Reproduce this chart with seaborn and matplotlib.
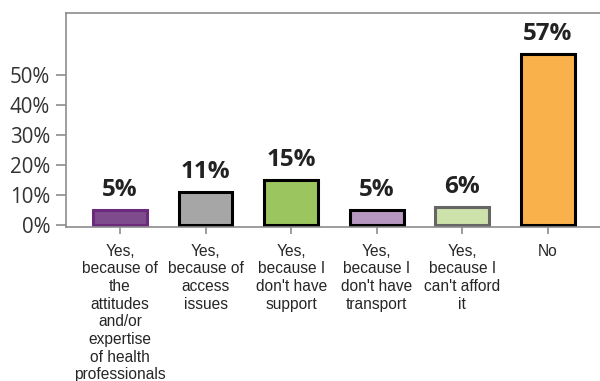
import matplotlib
matplotlib.use("Agg")
import matplotlib.pyplot as plt
import seaborn as sns
import pandas as pd

categories = [
    "Yes,\nbecause of\nthe\nattitudes\nand/or\nexpertise\nof health\nprofessionals",
    "Yes,\nbecause of\naccess\nissues",
    "Yes,\nbecause I\ndon't have\nsupport",
    "Yes,\nbecause I\ndon't have\ntransport",
    "Yes,\nbecause I\ncan't afford\nit",
    "No",
]
values = [5, 11, 15, 5, 6, 57]
labels = ["5%", "11%", "15%", "5%", "6%", "57%"]
fill_colors = ["#7E4B8D", "#A6A6A6", "#9BC55F", "#B597BF", "#CDE1AB", "#F9B24B"]
edge_colors = ["#6B2A7C", "#000000", "#000000", "#000000", "#666666", "#000000"]
yticks = [0, 10, 20, 30, 40, 50]
ytick_labels = ["0%", "10%", "20%", "30%", "40%", "50%"]

sns.set_theme(style="white")
plt.rcParams["font.family"] = ["Open Sans", "DejaVu Sans"]

df = pd.DataFrame({"cat": categories, "val": values})

fig = plt.figure(figsize=(6, 3.81), dpi=100)
left_px, right_px = 66, 612
ax = fig.add_axes([left_px/600, 1-227/381, (right_px-left_px)/600, (227-13)/381])

sns.barplot(data=df, x="cat", y="val", hue="cat", palette=fill_colors,
            legend=False, width=0.63, ax=ax, saturation=1)

for patch, ec in zip(ax.patches, edge_colors):
    patch.set_edgecolor(ec)
    patch.set_linewidth(2.2)

for i, (v, lab) in enumerate(zip(values, labels)):
    ax.annotate(lab, (i, v), xytext=(0, 6), textcoords="offset points",
                ha="center", va="bottom", fontsize=17.5, fontweight="bold",
                color="#222222")

unit = 85.6
ax.set_xlim(-0.63, -0.63 + (right_px-left_px)/unit)
ax.set_ylim(-0.67, 70.7)
ax.set_yticks(yticks)
ax.set_yticklabels(ytick_labels, fontsize=14.8, color="#333333")
ax.set_xlabel("")
ax.set_ylabel("")
ax.set_xticks(range(len(categories)))
ax.set_xticklabels(categories, fontsize=11.2, family=["Liberation Sans"],
                   color="#262626", linespacing=1.22, va="top")

for s in ["left", "top", "bottom"]:
    ax.spines[s].set_color("#8C8C8C")
    ax.spines[s].set_linewidth(1.2)
ax.spines["right"].set_visible(False)

ax.tick_params(axis="y", which="both", left=True, length=7.5, width=1.2,
               color="#8C8C8C", pad=4)
ax.tick_params(axis="x", which="both", bottom=True, length=5, width=1.2,
               color="#8C8C8C", pad=7)

fig.savefig("out.png", dpi=100)
